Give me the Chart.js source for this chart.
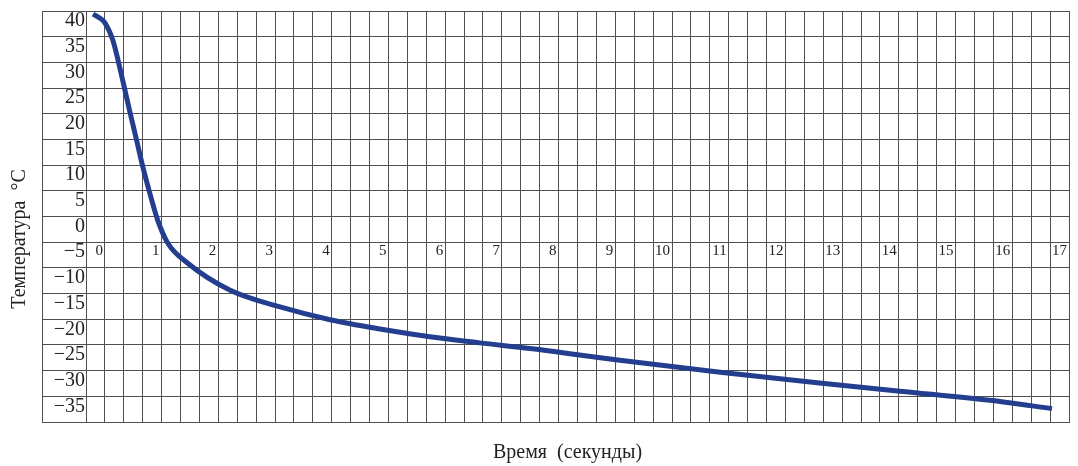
<!DOCTYPE html>
<html>
<head>
<meta charset="utf-8">
<script src="https://cdn.jsdelivr.net/npm/chart.js@4.4.1/dist/chart.umd.min.js"></script>
<style>
  body { margin: 0; background: #fff; }
  canvas { display: block; }
</style>
</head>
<body>
<canvas id="coolChart" width="1078" height="466"></canvas>
<script>
    // time (s) and temperature (°C)
    var times = [-0.21, -0.1, 0, 0.14, 0.23, 0.32, 0.44, 0.56, 0.67, 0.79, 0.93, 1.11, 1.45, 2.2, 3.09, 3.97, 4.85, 5.73, 6.61, 7.5, 9.08, 10.85, 12.6, 14.02, 15.84, 16.7];
    var temps = [39.4, 38.7, 37.7, 34.3, 30.5, 26.2, 20.4, 14.8, 9.6, 4.6, -0.7, -5.2, -9, -14.3, -17.6, -20.1, -21.9, -23.4, -24.6, -25.7, -28.0, -30.3, -32.4, -34.0, -36.1, -37.4];
    var timeLabels = [0, 1, 2, 3, 4, 5, 6, 7, 8, 9, 10, 11, 12, 13, 14, 15, 16, 17];
    var tempMin = -40, tempMax = 40;

    var points = times.map(function (t, i) { return { x: t, y: temps[i] }; });
    var gridColor = '#505050';
    var serif = 'Liberation Serif';

    // left edge of the frame around the y labels
    var framePlugin = {
        id: 'frame',
        afterDraw: function (chart) {
            var a = chart.chartArea, c = chart.ctx;
            c.save();
            c.strokeStyle = gridColor;
            c.lineWidth = 1;
            c.beginPath();
            c.moveTo(a.left - 43.5, a.top);
            c.lineTo(a.left - 43.5, a.bottom);
            c.stroke();
            c.restore();
        }
    };

    var ctx = document.getElementById('coolChart').getContext('2d');
    var coolChart = new Chart(ctx, {
        type: 'line',
        data: {
            datasets: [{
                data: points,
                borderColor: '#233e8f',
                borderWidth: 5,
                pointRadius: 0,
                cubicInterpolationMode: 'monotone',
                fill: false
            }]
        },
        options: {
            responsive: false,
            animation: false,
            devicePixelRatio: 1,
            layout: { padding: { top: 11, right: 9, left: 0, bottom: 0 } },
            plugins: { legend: { display: false }, tooltip: { enabled: false } },
            scales: {
                x: {
                    type: 'linear',
                    min: -1 / 3,
                    max: 17,
                    afterBuildTicks: function (s) {
                        var t = [];
                        for (var k = -1; k <= 51; k++) t.push({ value: k / 3 });
                        s.ticks = t;
                    },
                    ticks: { display: false },
                    grid: { color: gridColor, drawTicks: false },
                    border: { color: gridColor },
                    title: {
                        display: true,
                        text: 'Время  (секунды)    ',
                        color: '#222',
                        font: { family: serif, size: 20 },
                        padding: { top: 19, bottom: 1 }
                    },
                    afterFit: function (s) { s.height = 44; }
                },
                x2: {
                    type: 'linear',
                    position: { y: -5 },
                    min: -1 / 3,
                    max: 17,
                    afterBuildTicks: function (s) {
                        s.ticks = timeLabels.map(function (v) { return { value: v }; });
                    },
                    ticks: {
                        align: 'end',
                        labelOffset: -2,
                        padding: 0,
                        maxRotation: 0,
                        autoSkip: false,
                        color: '#222',
                        font: { family: serif, size: 15 }
                    },
                    grid: { display: false, drawTicks: false },
                    border: { display: false }
                },
                y: {
                    min: tempMin,
                    max: tempMax,
                    ticks: {
                        stepSize: 5,
                        autoSkip: false,
                        padding: -43,
                        labelOffset: 10,
                        color: '#222',
                        font: { family: serif, size: 20 },
                        callback: function (v) {
                            if (v === tempMin) return '';
                            return v < 0 ? '\u2212' + Math.abs(v) : String(v);
                        }
                    },
                    grid: { color: gridColor, tickLength: 44 },
                    border: { color: gridColor },
                    title: {
                        display: true,
                        text: 'Температура  °C         ',
                        color: '#222',
                        font: { family: serif, size: 20 },
                        padding: { top: 8, bottom: 0 }
                    },
                    afterFit: function (s) { s.width = 86; }
                }
            }
        },
        plugins: [framePlugin]
    });
</script>
</body>
</html>
